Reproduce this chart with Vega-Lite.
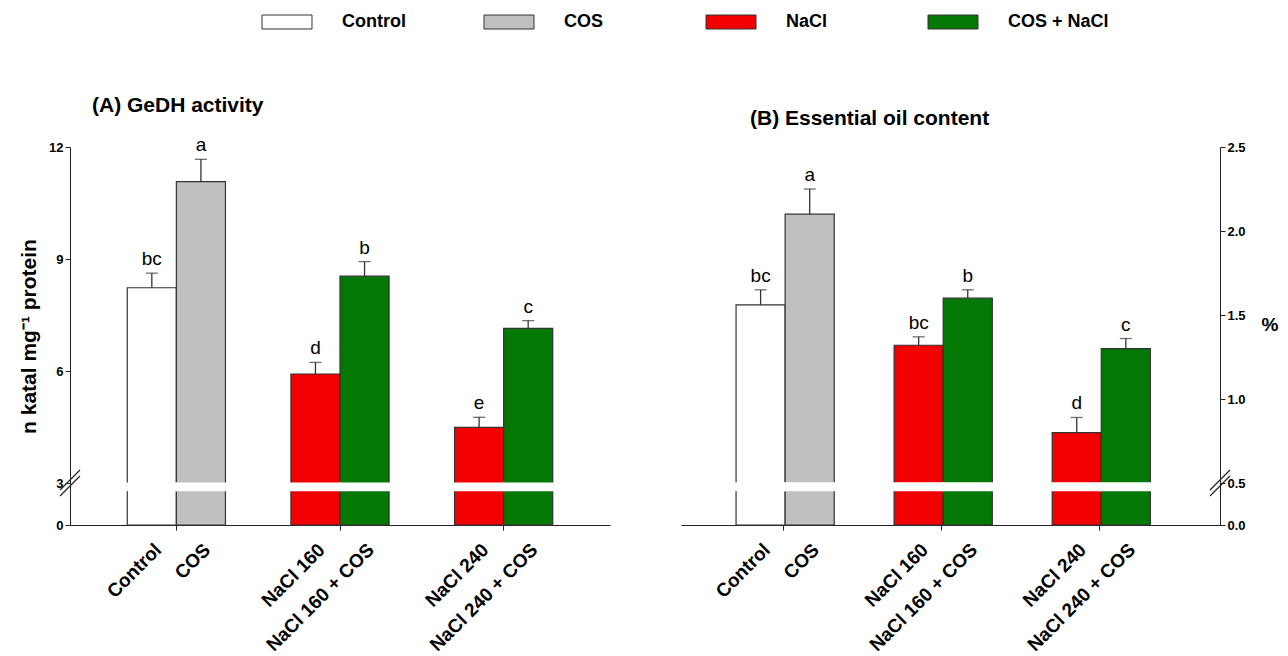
{
  "$schema": "https://vega.github.io/schema/vega-lite/v6.json",
  "background": "white",
  "padding": {"left": 18, "top": 13, "right": 5, "bottom": 0},
  "datasets": {
    "ged": [
      {"salt": "Control", "cos": "without", "trt": "Control", "label": "Control", "mean": 8.23, "upper": 8.62, "letter": "bc"},
      {"salt": "Control", "cos": "with", "trt": "COS", "label": "COS", "mean": 11.07, "upper": 11.67, "letter": "a"},
      {"salt": "NaCl 160", "cos": "without", "trt": "NaCl", "label": "NaCl 160", "mean": 5.92, "upper": 6.23, "letter": "d"},
      {"salt": "NaCl 160", "cos": "with", "trt": "COS + NaCl", "label": "NaCl 160 + COS", "mean": 8.54, "upper": 8.93, "letter": "b"},
      {"salt": "NaCl 240", "cos": "without", "trt": "NaCl", "label": "NaCl 240", "mean": 4.49, "upper": 4.76, "letter": "e"},
      {"salt": "NaCl 240", "cos": "with", "trt": "COS + NaCl", "label": "NaCl 240 + COS", "mean": 7.14, "upper": 7.35, "letter": "c"}
    ],
    "oil": [
      {"salt": "Control", "cos": "without", "trt": "Control", "label": "Control", "mean": 1.56, "upper": 1.65, "letter": "bc"},
      {"salt": "Control", "cos": "with", "trt": "COS", "label": "COS", "mean": 2.10, "upper": 2.25, "letter": "a"},
      {"salt": "NaCl 160", "cos": "without", "trt": "NaCl", "label": "NaCl 160", "mean": 1.32, "upper": 1.37, "letter": "bc"},
      {"salt": "NaCl 160", "cos": "with", "trt": "COS + NaCl", "label": "NaCl 160 + COS", "mean": 1.60, "upper": 1.65, "letter": "b"},
      {"salt": "NaCl 240", "cos": "without", "trt": "NaCl", "label": "NaCl 240", "mean": 0.80, "upper": 0.89, "letter": "d"},
      {"salt": "NaCl 240", "cos": "with", "trt": "COS + NaCl", "label": "NaCl 240 + COS", "mean": 1.30, "upper": 1.36, "letter": "c"}
    ]
  },
  "config": {
    "font": "Liberation Sans",
    "view": {"stroke": null},
    "axis": {
      "grid": false,
      "domainColor": "#222",
      "tickColor": "#222",
      "labelColor": "#000",
      "labelFont": "Liberation Sans",
      "labelFontWeight": "bold",
      "labelFontSize": 13,
      "tickSize": 5,
      "titleFont": "Liberation Sans",
      "titleFontWeight": "bold",
      "titleColor": "#000"
    },
    "title": {"font": "Liberation Sans", "fontWeight": "bold", "fontSize": 21, "color": "#000", "anchor": "start", "frame": "group"}
  },
  "spacing": 71,
  "hconcat": [
    {
      "width": 540,
      "height": 378,
      "title": {"text": "(A) GeDH activity", "dx": 22, "offset": 20},
      "layer": [
        {
          "data": {"name": "ged"},
          "encoding": {
            "x": {"field": "salt", "type": "nominal", "sort": ["Control", "NaCl 160", "NaCl 240"],
                  "scale": {"paddingInner": 0.4, "paddingOuter": 0.35, "align": 0.5},
                  "axis": {"labels": false, "title": null, "orient": "bottom", "tickSize": 5}},
            "xOffset": {"field": "cos", "type": "nominal", "sort": ["without", "with"], "scale": {"paddingInner": 0, "paddingOuter": 0}}
          },
          "layer": [
            {
              "mark": {"type": "bar", "stroke": "#333", "strokeWidth": 1.2},
              "encoding": {
                "y": {"field": "mean", "type": "quantitative",
                      "scale": {"domain": [0, 3, 12], "range": [378, 336, 0], "nice": false, "zero": false},
                      "axis": {"values": [0, 3, 6, 9, 12], "title": "n katal mg⁻¹ protein", "titleFontSize": 21, "titlePadding": 9}},
                "color": {"field": "trt", "type": "nominal",
                          "scale": {"domain": ["Control", "COS", "NaCl", "COS + NaCl"], "range": ["#ffffff", "#c0c0c0", "#f20000", "#047804"]},
                          "legend": {"orient": "none", "legendX": 208, "legendY": -134, "direction": "horizontal", "columns": 4, "gridAlign": "all",
                                     "title": null, "symbolType": "M-3.57,-1H3.57V1H-3.57Z", "symbolSize": 196, "symbolStrokeColor": "#333",
                                     "symbolStrokeWidth": 1, "symbolOpacity": 1, "labelFont": "Liberation Sans", "labelFontSize": 18, "labelFontWeight": "bold",
                                     "labelColor": "#000", "labelOffset": 46, "columnPadding": 39}}
              }
            },
            {
              "mark": {"type": "bar", "fill": "white", "stroke": "white", "strokeWidth": 2},
              "encoding": {"y": {"datum": 2.97}, "y2": {"datum": 2.48}}
            },
            {
              "mark": {"type": "rule", "color": "#333", "strokeWidth": 1.3},
              "encoding": {"y": {"field": "mean", "type": "quantitative"}, "y2": {"field": "upper"}}
            },
            {
              "mark": {"type": "tick", "orient": "horizontal", "size": 12, "thickness": 1.3, "color": "#333"},
              "encoding": {"y": {"field": "upper", "type": "quantitative"}}
            },
            {
              "mark": {"type": "text", "fontSize": 19, "baseline": "alphabetic", "dy": -8, "color": "#000"},
              "encoding": {"y": {"field": "upper", "type": "quantitative"}, "text": {"field": "letter"}}
            },
            {
              "mark": {"type": "text", "fontSize": 19, "fontWeight": "bold", "angle": 315, "align": "right", "baseline": "middle", "dx": -11, "dy": 20, "color": "#000"},
              "encoding": {"y": {"datum": 0}, "text": {"field": "label"}}
            }
          ]
        },
        {
          "data": {"values": [{"brk": 3}]},
          "mark": {"type": "point", "shape": "M-1,0.7L1,-1.3M-1,1.3L1,-0.7", "size": 400, "filled": false, "stroke": "#222", "strokeWidth": 1.2, "opacity": 1},
          "encoding": {
            "x": {"datum": 0, "type": "quantitative", "scale": {"domain": [0, 1]}, "axis": null},
            "y": {"field": "brk", "type": "quantitative"}
          }
        }
      ],
      "resolve": {"scale": {"x": "independent"}}
    },
    {
      "width": 539,
      "height": 378,
      "title": {"text": "(B) Essential oil content", "dx": 69, "offset": 12},
      "layer": [
        {
          "data": {"name": "oil"},
          "encoding": {
            "x": {"field": "salt", "type": "nominal", "sort": ["Control", "NaCl 160", "NaCl 240"],
                  "scale": {"paddingInner": 0.4, "paddingOuter": 0.405, "align": 0.43},
                  "axis": {"labels": false, "title": null, "orient": "bottom", "tickSize": 5}},
            "xOffset": {"field": "cos", "type": "nominal", "sort": ["without", "with"], "scale": {"paddingInner": 0, "paddingOuter": 0}}
          },
          "layer": [
            {
              "mark": {"type": "bar", "stroke": "#333", "strokeWidth": 1.2},
              "encoding": {
                "y": {"field": "mean", "type": "quantitative",
                      "scale": {"domain": [0, 0.5, 2.5], "range": [378, 336, 0], "nice": false, "zero": false},
                      "axis": {"orient": "right", "values": [0, 0.5, 1, 1.5, 2, 2.5], "format": ".1f", "title": "%", "titleAngle": 0,
                               "titleFontSize": 19, "titleAlign": "left", "titleBaseline": "middle", "titlePadding": 16, "titleY": 177}},
                "color": {"field": "trt", "type": "nominal"}
              }
            },
            {
              "mark": {"type": "bar", "fill": "white", "stroke": "white", "strokeWidth": 2},
              "encoding": {"y": {"datum": 0.497}, "y2": {"datum": 0.415}}
            },
            {
              "mark": {"type": "rule", "color": "#333", "strokeWidth": 1.3},
              "encoding": {"y": {"field": "mean", "type": "quantitative"}, "y2": {"field": "upper"}}
            },
            {
              "mark": {"type": "tick", "orient": "horizontal", "size": 12, "thickness": 1.3, "color": "#333"},
              "encoding": {"y": {"field": "upper", "type": "quantitative"}}
            },
            {
              "mark": {"type": "text", "fontSize": 19, "baseline": "alphabetic", "dy": -8, "color": "#000"},
              "encoding": {"y": {"field": "upper", "type": "quantitative"}, "text": {"field": "letter"}}
            },
            {
              "mark": {"type": "text", "fontSize": 19, "fontWeight": "bold", "angle": 315, "align": "right", "baseline": "middle", "dx": -11, "dy": 20, "color": "#000"},
              "encoding": {"y": {"datum": 0}, "text": {"field": "label"}}
            }
          ]
        },
        {
          "data": {"values": [{"brk": 0.5}]},
          "mark": {"type": "point", "shape": "M-1,0.7L1,-1.3M-1,1.3L1,-0.7", "size": 400, "filled": false, "stroke": "#222", "strokeWidth": 1.2, "opacity": 1},
          "encoding": {
            "x": {"datum": 1, "type": "quantitative", "scale": {"domain": [0, 1]}, "axis": null},
            "y": {"field": "brk", "type": "quantitative"}
          }
        }
      ],
      "resolve": {"scale": {"x": "independent"}}
    }
  ]
}
